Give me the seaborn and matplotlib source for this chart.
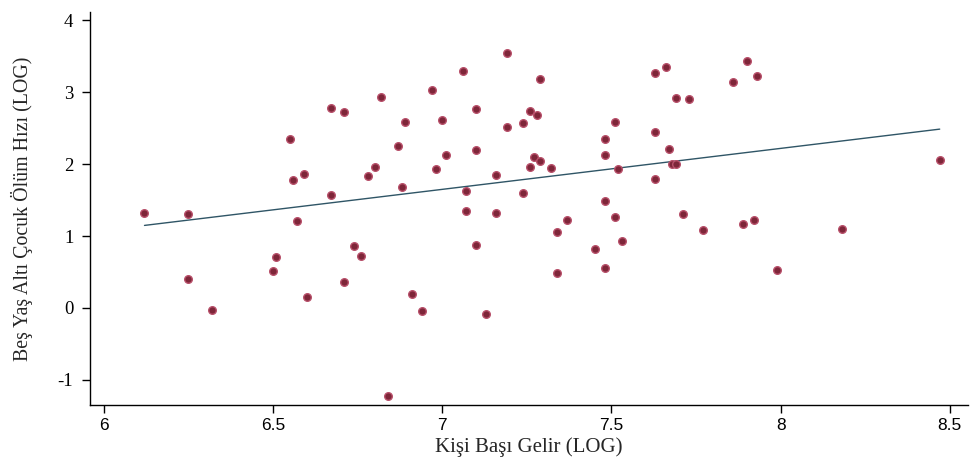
import numpy as np
import pandas as pd
import matplotlib
matplotlib.use("Agg")
import matplotlib.pyplot as plt
import seaborn as sns

# --- values ---
gelir_log = [6.12, 6.25, 6.25, 6.32, 6.55, 6.56, 6.59, 6.57, 6.51, 6.50,
             6.60, 6.67, 6.67, 6.71, 6.71, 6.74, 6.76, 6.78, 6.80, 6.82,
             6.84, 6.87, 6.89, 6.88, 6.91, 6.94, 6.97, 6.98, 7.00, 7.01,
             7.06, 7.07, 7.07, 7.10, 7.10, 7.10, 7.13, 7.16, 7.16, 7.19,
             7.19, 7.24, 7.26, 7.26, 7.24, 7.27, 7.28, 7.29, 7.29, 7.32,
             7.34, 7.34, 7.37, 7.45, 7.48, 7.48, 7.48, 7.48, 7.51, 7.52,
             7.51, 7.53, 7.63, 7.66, 7.63, 7.63, 7.67, 7.68, 7.69, 7.69,
             7.73, 7.71, 7.77, 7.86, 7.90, 7.93, 7.89, 7.92, 7.99, 8.18,
             8.47]
olum_log = [1.32, 1.31, 0.40, -0.03, 2.35, 1.78, 1.86, 1.21, 0.71, 0.51,
            0.15, 1.57, 2.78, 2.72, 0.36, 0.86, 0.72, 1.83, 1.96, 2.93,
            -1.22, 2.25, 2.58, 1.68, 0.19, -0.04, 3.03, 1.93, 2.61, 2.13,
            3.29, 1.63, 1.35, 2.76, 0.88, 2.19, -0.09, 1.85, 1.32, 3.54,
            2.51, 2.57, 2.74, 1.96, 1.60, 2.10, 2.68, 2.04, 3.18, 1.94,
            1.06, 0.49, 1.22, 0.82, 1.49, 2.35, 2.12, 0.56, 2.58, 1.93,
            1.26, 0.93, 3.26, 3.35, 2.44, 1.79, 2.21, 2.00, 2.00, 2.92,
            2.90, 1.31, 1.08, 3.14, 3.43, 3.23, 1.17, 1.22, 0.53, 1.10,
            2.06]

x_ticks = [6, 6.5, 7, 7.5, 8, 8.5]
x_tick_labels = ["6", "6.5", "7", "7.5", "8", "8.5"]
y_ticks = [-1, 0, 1, 2, 3, 4]

df = pd.DataFrame({"gelir": gelir_log, "olum": olum_log})

sns.set_style("ticks")
plt.rcParams["font.family"] = ["Liberation Serif", "DejaVu Serif"]

fig = plt.figure(figsize=(9.71, 4.67), dpi=100)
ax = fig.add_axes([0.0927, 0.133, 0.904, 0.841])

# fitted line over the observed range
sns.regplot(data=df, x="gelir", y="olum", ax=ax, ci=None, scatter=False,
            truncate=True, line_kws={"color": "#2f5566", "lw": 1.0})
sns.scatterplot(data=df, x="gelir", y="olum", ax=ax, marker="o", s=30,
                color="#7e2639", edgecolor="#b8506a", linewidth=1.0, zorder=3)

ax.set_xlim(5.959, 8.553)
ax.set_ylim(-1.347, 4.111)
ax.set_xticks(x_ticks)
ax.set_xticklabels(x_tick_labels, family=["Liberation Sans", "DejaVu Sans"], fontsize=12.5)
ax.set_yticks(y_ticks)
ax.set_yticklabels([str(v) for v in y_ticks], fontsize=13.5)
ax.tick_params(direction="out", length=6, width=1, colors="black")
ax.tick_params(axis="y", pad=6)

sns.despine(ax=ax)
for side in ["left", "bottom"]:
    ax.spines[side].set_color("black")
    ax.spines[side].set_linewidth(1.0)

ax.set_xlabel("Kişi Başı Gelir (LOG)", fontsize=15, labelpad=3)
ax.set_ylabel("Beş Yaş Altı Çocuk Ölüm Hızı (LOG)", fontsize=14.3, labelpad=18)

plt.savefig("out.png", dpi=100)
